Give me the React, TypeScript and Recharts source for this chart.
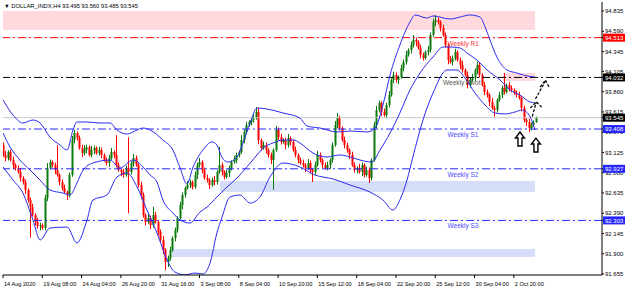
import React from "react"
import {
  ComposedChart,
  Bar,
  Line,
  XAxis,
  YAxis,
  ReferenceLine,
  ReferenceArea,
  ReferenceDot,
} from "recharts"

// H4 closes
const closes = [
  93.094, 93.057, 93.130, 93.033, 92.973, 92.937, 92.888, 92.816, 92.767, 92.671,
  92.550, 92.465, 92.368, 92.284, 92.235, 92.247, 92.211, 92.574, 92.937, 93.009,
  92.973, 92.912, 92.852, 92.767, 92.695, 92.646, 92.610, 92.852, 93.275, 93.360,
  93.299, 93.178, 93.118, 93.154, 93.190, 93.094, 93.154, 93.178, 93.118, 93.154,
  93.094, 93.033, 92.997, 93.057, 93.130, 93.094, 92.973, 92.912, 92.888, 92.852,
  92.937, 92.888, 92.997, 93.057, 92.973, 92.731, 92.610, 92.368, 92.284, 92.332,
  92.247, 92.368, 92.284, 92.163, 92.066, 91.945, 91.800, 91.848, 91.945, 92.090,
  92.187, 92.332, 92.489, 92.610, 92.695, 92.731, 92.767, 92.707, 92.852, 92.973,
  93.009, 92.912, 92.816, 92.791, 92.731, 92.791, 92.767, 92.888, 92.973, 92.888,
  92.828, 92.876, 92.937, 93.009, 93.033, 93.094, 93.130, 93.275, 93.372, 93.456,
  93.493, 93.517, 93.541, 93.614, 93.275, 93.178, 93.215, 93.154, 93.094, 93.033,
  93.154, 93.396, 93.311, 93.251, 93.275, 93.215, 93.299, 93.251, 93.154, 93.094,
  93.033, 92.997, 92.973, 92.937, 92.997, 92.912, 92.888, 92.973, 93.094, 93.033,
  92.973, 92.937, 92.973, 93.033, 93.215, 93.456, 93.541, 93.420, 93.275, 93.215,
  93.154, 93.094, 92.973, 92.912, 92.937, 92.888, 92.973, 92.852, 92.912, 92.816,
  93.033, 93.456, 93.638, 93.723, 93.614, 93.577, 93.698, 93.819, 94.001, 94.061,
  94.001, 94.037, 94.146, 94.218, 94.303, 94.363, 94.424, 94.484, 94.460, 94.388,
  94.303, 94.267, 94.339, 94.363, 94.545, 94.702, 94.726, 94.702, 94.629, 94.545,
  94.424, 94.242, 94.218, 94.267, 94.339, 94.242, 94.182, 94.122, 94.061, 93.940,
  94.001, 94.025, 94.122, 94.182, 94.061, 93.940, 93.856, 93.819, 93.735, 93.662,
  93.638, 93.759, 93.819, 93.904, 93.856, 93.940, 93.904, 93.880, 93.843, 93.819,
  93.783, 93.662, 93.517, 93.493, 93.420, 93.456, 93.493, 93.545,
]
const firstOpen = 93.215

// wick lengths above / below the body
const upWicks = [
  0.03, 0.05, 0.02, 0.03, 0.04, 0.02, 0.03, 0.05, 0.02, 0.03,
  0.02, 0.03, 0.04, 0.02, 0.05, 0.03, 0.02, 0.04, 0.06, 0.03,
  0.02, 0.03, 0.30, 0.02, 0.03, 0.04, 0.02, 0.03, 0.05, 0.04,
  0.02, 0.03, 0.04, 0.06, 0.03, 0.02, 0.05, 0.03, 0.02, 0.04,
  0.03, 0.02, 0.03, 0.04, 0.05, 0.02, 0.24, 0.03, 0.02, 0.04,
  0.03, 0.37, 0.02, 0.05, 0.03, 0.02, 0.04, 0.03, 0.02, 0.05,
  0.03, 0.10, 0.04, 0.02, 0.03, 0.05, 0.02, 0.03, 0.04, 0.02,
  0.03, 0.02, 0.04, 0.03, 0.02, 0.05, 0.03, 0.02, 0.04, 0.03,
  0.05, 0.02, 0.03, 0.04, 0.02, 0.03, 0.05, 0.02, 0.22, 0.03,
  0.02, 0.04, 0.03, 0.02, 0.05, 0.03, 0.02, 0.06, 0.03, 0.04,
  0.02, 0.03, 0.05, 0.06, 0.05, 0.02, 0.04, 0.03, 0.02, 0.03,
  0.02, 0.05, 0.03, 0.04, 0.02, 0.03, 0.05, 0.02, 0.03, 0.04,
  0.02, 0.03, 0.04, 0.02, 0.05, 0.03, 0.02, 0.04, 0.05, 0.03,
  0.02, 0.03, 0.04, 0.02, 0.03, 0.05, 0.06, 0.03, 0.02, 0.04,
  0.03, 0.02, 0.04, 0.03, 0.02, 0.05, 0.03, 0.02, 0.04, 0.03,
  0.02, 0.04, 0.05, 0.03, 0.02, 0.04, 0.03, 0.05, 0.02, 0.04,
  0.03, 0.02, 0.04, 0.03, 0.05, 0.02, 0.04, 0.06, 0.03, 0.02,
  0.04, 0.03, 0.02, 0.05, 0.03, 0.04, 0.06, 0.03, 0.02, 0.04,
  0.03, 0.02, 0.05, 0.03, 0.04, 0.02, 0.03, 0.05, 0.02, 0.04,
  0.03, 0.05, 0.02, 0.04, 0.03, 0.02, 0.04, 0.03, 0.02, 0.05,
  0.03, 0.02, 0.04, 0.03, 0.18, 0.02, 0.04, 0.03, 0.02, 0.03,
  0.04, 0.02, 0.03, 0.02, 0.04, 0.03, 0.02, 0.015,
]
const downWicks = [
  0.02, 0.04, 0.03, 0.02, 0.05, 0.03, 0.02, 0.04, 0.03, 0.05,
  0.03, 0.37, 0.02, 0.04, 0.03, 0.05, 0.02, 0.03, 0.04, 0.02,
  0.03, 0.05, 0.02, 0.04, 0.03, 0.02, 0.06, 0.03, 0.02, 0.04,
  0.03, 0.02, 0.05, 0.03, 0.04, 0.02, 0.03, 0.05, 0.02, 0.03,
  0.04, 0.02, 0.03, 0.05, 0.02, 0.04, 0.03, 0.02, 0.05, 0.03,
  0.02, 0.50, 0.03, 0.04, 0.02, 0.03, 0.05, 0.03, 0.04, 0.02,
  0.05, 0.03, 0.02, 0.04, 0.03, 0.05, 0.10, 0.06, 0.03, 0.02,
  0.04, 0.03, 0.02, 0.05, 0.03, 0.02, 0.04, 0.03, 0.02, 0.05,
  0.03, 0.04, 0.02, 0.03, 0.05, 0.02, 0.04, 0.03, 0.02, 0.04,
  0.03, 0.02, 0.05, 0.03, 0.02, 0.04, 0.03, 0.02, 0.04, 0.03,
  0.02, 0.04, 0.03, 0.02, 0.05, 0.03, 0.02, 0.04, 0.03, 0.05,
  0.36, 0.02, 0.04, 0.03, 0.02, 0.05, 0.03, 0.04, 0.02, 0.03,
  0.04, 0.02, 0.03, 0.05, 0.02, 0.04, 0.12, 0.03, 0.02, 0.03,
  0.04, 0.02, 0.03, 0.05, 0.03, 0.02, 0.04, 0.03, 0.02, 0.04,
  0.03, 0.05, 0.02, 0.03, 0.04, 0.02, 0.05, 0.03, 0.02, 0.06,
  0.03, 0.02, 0.04, 0.03, 0.05, 0.02, 0.04, 0.03, 0.02, 0.04,
  0.03, 0.05, 0.02, 0.04, 0.03, 0.02, 0.04, 0.03, 0.05, 0.02,
  0.04, 0.03, 0.02, 0.04, 0.03, 0.02, 0.05, 0.03, 0.04, 0.02,
  0.03, 0.05, 0.02, 0.04, 0.03, 0.02, 0.05, 0.03, 0.02, 0.04,
  0.03, 0.02, 0.04, 0.05, 0.03, 0.02, 0.04, 0.03, 0.05, 0.02,
  0.08, 0.03, 0.02, 0.04, 0.03, 0.02, 0.04, 0.03, 0.02, 0.03,
  0.02, 0.04, 0.03, 0.05, 0.05, 0.03, 0.02, 0.01,
]

// Bollinger bands, sampled as [bar index, price]
const bandUpper = [
  [0, 93.759], [4.1, 93.577], [8.1, 93.481], [12.2, 93.517], [15.1, 93.481], [19.1, 93.311],
  [23.2, 93.215], [26.1, 93.154], [28.5, 93.396], [30.1, 93.493], [34.2, 93.493], [39.5, 93.481],
  [43.6, 93.481], [46.4, 93.396], [50.5, 93.348], [54.6, 93.396], [57, 93.42], [59.9, 93.396],
  [65.1, 93.275], [69.2, 93.154], [72.1, 92.937], [74.9, 92.743], [77.4, 92.949], [81.4, 93.154],
  [85.1, 93.251], [87.1, 93.215], [89.1, 93.07], [91.6, 93.009], [95.3, 93.07], [97.7, 93.239],
  [100.6, 93.481], [103.4, 93.662], [107.5, 93.65], [114, 93.602], [120.9, 93.541], [123.8, 93.444],
  [129.1, 93.42], [136, 93.372], [141.3, 93.384], [148.2, 93.372], [151.5, 93.42], [154.7, 93.698],
  [157.6, 94.061], [161.6, 94.424], [165.7, 94.702], [167.8, 94.787], [172.6, 94.75], [175.1, 94.775],
  [182, 94.738], [186.1, 94.762], [190.1, 94.787], [194.2, 94.762], [196.3, 94.642], [198.3, 94.484],
  [201.1, 94.279], [205.2, 94.122], [209.3, 94.085], [213.4, 94.049], [216.6, 94.037],
]
const bandMiddle = [
  [0, 93.36], [2.9, 93.19], [6.9, 93.033], [11, 92.912], [15.1, 92.791], [19.1, 92.671],
  [24.4, 92.634], [27.3, 92.61], [30.1, 92.755], [32.6, 92.912], [36.6, 92.997], [43.6, 93.033],
  [47.6, 92.937], [52.9, 93.033], [57, 92.949], [59.9, 92.852], [62.7, 92.767], [65.1, 92.55],
  [69.2, 92.392], [72.1, 92.308], [76.1, 92.271], [80.2, 92.404], [83.1, 92.465], [87.1, 92.586],
  [91.2, 92.707], [95.3, 92.816], [99.3, 92.949], [103.4, 93.094], [105.9, 93.178], [109.9, 93.239],
  [114, 93.275], [118.1, 93.275], [120.9, 93.239], [126.2, 93.118], [131.9, 93.07], [137.2, 93.094],
  [141.3, 93.07], [145.4, 93.033], [150.2, 93.009], [153.5, 93.154], [157.6, 93.36], [161.6, 93.602],
  [165.7, 93.88], [169.8, 94.085], [175.1, 94.279], [179.2, 94.4], [182, 94.4], [186.1, 94.388],
  [188.9, 94.327], [193, 94.242], [197.1, 94.122], [202.4, 94.001], [206.5, 93.88], [210.5, 93.819],
  [214.6, 93.735], [216.6, 93.723],
]
const bandLower = [
  [0, 92.949], [4.1, 92.791], [8.1, 92.634], [12.2, 92.308], [15.1, 92.066], [19.1, 92.211],
  [26.1, 92.223], [30.1, 92.03], [34.2, 92.308], [36.6, 92.55], [42.3, 92.61], [46.4, 92.828],
  [50.5, 92.876], [54.6, 92.707], [58.6, 92.429], [62.7, 92.151], [66.8, 91.824], [70, 91.679],
  [74.1, 91.645], [78.2, 91.667], [81.4, 91.655], [84.3, 91.788], [87.1, 92.151], [89.2, 92.344],
  [92.4, 92.586], [96.5, 92.61], [100.6, 92.513], [104.6, 92.586], [108.7, 92.828], [114, 92.997],
  [120.9, 92.949], [127, 92.852], [134.4, 92.804], [141.3, 92.731], [149.4, 92.646], [154.7, 92.55],
  [158.8, 92.429], [161.6, 92.55], [164.5, 92.791], [166.9, 93.07], [171, 93.517], [175.1, 93.843],
  [180.8, 94.122], [184.9, 94.122], [188.1, 94.025], [192.2, 93.843], [196.3, 93.698], [200.3, 93.602],
  [204.4, 93.59], [208.5, 93.614], [211.4, 93.638], [214.7, 93.553], [216.6, 93.396],
]

const timeTicks = [0, 16, 32, 48, 64, 80, 96, 112, 128, 144, 160, 176, 192, 208]
const timeLabels = [
  "14 Aug 2020", "19 Aug 08:00", "24 Aug 04:00", "26 Aug 20:00", "31 Aug 16:00",
  "3 Sep 08:00", "8 Sep 04:00", "10 Sep 20:00", "15 Sep 12:00", "18 Sep 04:00",
  "22 Sep 20:00", "25 Sep 12:00", "30 Sep 04:00", "2 Oct 20:00",
]
const priceTicks = [
  94.835, 94.59, 94.345, 94.105, 93.86, 93.615, 93.37,
  93.125, 92.88, 92.635, 92.39, 92.145, 91.9, 91.655,
]

// weekly pivot levels
const levelNames = ["Weekly R1", "Weekly Pivot", "Weekly S1", "Weekly S2", "Weekly S3"]
const levelValues = [94.513, 94.032, 93.408, 92.927, 92.303]
const levelColors = ["#ff0000", "#000000", "#2626ff", "#2626ff", "#2626ff"]
const levelTextColors = ["#ff3030", "#555555", "#4a4aff", "#4a4aff", "#4a4aff"]
const levelLabelAt = [181, 179.2, 181, 181, 181]
const lastPrice = 93.545

const tagValues = [94.513, 94.032, 93.545, 93.408, 92.927, 92.303]
const tagColors = ["#ff0000", "#000000", "#000000", "#2626ff", "#2626ff", "#2626ff"]

// highlighted zones [x1, x2, y1, y2]
const zones = [
  [0, 216.6, 94.605, 94.835],
  [203.6, 216.6, 93.988, 94.085],
  [88.4, 216.6, 92.646, 92.779],
  [68.8, 216.6, 91.86, 91.957],
]
const zoneColors = ["#ffd9de", "#ffd9de", "#d6ddf8", "#d6ddf8"]

// annotations: hollow arrows (tip) and the two sketched dashed arrows
const bigArrows = [[210.5, 93.372], [217, 93.299]]
const sketchLines = [
  [[215.5, 93.56], [217.2, 93.735]],
  [[214.7, 93.662], [217.2, 93.735]],
  [[217.2, 93.735], [219.3, 93.674]],
  [[216.8, 93.771], [220.9, 93.989]],
  [[218.7, 93.916], [220.9, 93.999]],
  [[220.9, 93.999], [222.3, 93.916]],
]

const candles = closes.map((c, i) => {
  const o = i === 0 ? firstOpen : closes[i - 1]
  return {
    i,
    open: o,
    close: c,
    high: Math.max(o, c) + upWicks[i],
    low: Math.min(o, c) - downWicks[i],
  }
})

const toPoints = (arr: number[][]) => arr.map(([i, v]) => ({ i, v }))

const font = "'Liberation Sans', Arial, sans-serif"

function Candle(props: any) {
  const { x, y, width, height, payload } = props
  const { open, close, high, low } = payload
  const top = Math.min(y, y + height)
  const h = Math.abs(height)
  const k = h / (high - low)
  const yO = top + (high - open) * k
  const yC = top + (high - close) * k
  const color = close >= open ? "#0a7a0a" : "#ff0000"
  const cx = Math.round(x + width / 2)
  return (
    <g>
      <line x1={cx + 0.5} x2={cx + 0.5} y1={top} y2={top + h} stroke={color} strokeWidth={1} />
      <rect
        x={cx - 0.5}
        y={Math.min(yO, yC)}
        width={2}
        height={Math.max(1, Math.abs(yC - yO))}
        fill={color}
      />
    </g>
  )
}

function PriceTick(props: any) {
  const { x, y, payload } = props
  const idx = tagValues.indexOf(payload.value)
  if (idx >= 0) {
    return (
      <g>
        <rect x={x - 2} y={y - 4} width={22} height={8} fill={tagColors[idx]} />
        <text x={x} y={y + 2.2} fill="#ffffff" fontSize={6} fontFamily={font}>
          {payload.value.toFixed(3)}
        </text>
      </g>
    )
  }
  return (
    <text x={x} y={y + 2.2} fill="#000" fontSize={6} fontFamily={font}>
      {payload.value.toFixed(3)}
    </text>
  )
}

function TimeTick(props: any) {
  const { x, y, payload } = props
  const k = timeTicks.indexOf(payload.value)
  return (
    <text x={x + 1} y={y + 5.5} fill="#000" fontSize={5.6} fontFamily={font} textAnchor="start">
      {timeLabels[k]}
    </text>
  )
}

function UpArrow(props: any) {
  const { cx, cy } = props
  const d = `M${cx},${cy} L${cx + 4.5},${cy + 6} L${cx + 2},${cy + 6} L${cx + 2},${cy + 14} L${cx - 2},${cy + 14} L${cx - 2},${cy + 6} L${cx - 4.5},${cy + 6} Z`
  return <path d={d} fill="#ffffff" stroke="#000" strokeWidth={1.4} />
}

export default function App() {
  return (
    <div style={{ position: "relative", width: 625, height: 288, background: "#fff" }}>
      <style>{"body{margin:0}"}</style>
      <ComposedChart
        width={625}
        height={288}
        data={candles}
        margin={{ top: 2, right: 0, bottom: 0, left: 3 }}
      >
        <XAxis
          dataKey="i"
          type="number"
          domain={[0, 243.9]}
          allowDataOverflow
          ticks={timeTicks}
          interval={0}
          tick={<TimeTick />}
          tickSize={3}
          axisLine={{ stroke: "#000" }}
          tickLine={{ stroke: "#000" }}
          height={13}
        />
        <YAxis
          yAxisId="frame"
          orientation="left"
          width={0}
          tick={false}
          axisLine={{ stroke: "#000" }}
          tickLine={false}
        />
        <YAxis
          orientation="right"
          width={23}
          domain={[91.643, 94.944]}
          allowDataOverflow
          ticks={[...priceTicks, ...tagValues]}
          interval={0}
          tick={<PriceTick />}
          tickSize={2}
          tickMargin={1}
          axisLine={{ stroke: "#000" }}
          tickLine={{ stroke: "#000" }}
        />

        {zones.map((z, k) => (
          <ReferenceArea
            key={"z" + k}
            x1={z[0]}
            x2={z[1]}
            y1={z[2]}
            y2={z[3]}
            fill={zoneColors[k]}
            fillOpacity={1}
            stroke="none"
          />
        ))}

        <ReferenceLine y={lastPrice} stroke="#c8c8c8" strokeWidth={1} />
        {levelValues.map((v, k) => (
          <ReferenceLine
            key={"l" + k}
            y={v}
            stroke={levelColors[k]}
            strokeWidth={1}
            strokeDasharray="8 3 2 3"
          />
        ))}

        <Bar
          dataKey={(d: any) => [d.low, d.high]}
          barSize={2}
          shape={<Candle />}
          isAnimationActive={false}
        />

        <Line data={toPoints(bandUpper)} dataKey="v" type="monotone" stroke="#2b2bf0" strokeWidth={1} dot={false} isAnimationActive={false} />
        <Line data={toPoints(bandMiddle)} dataKey="v" type="monotone" stroke="#2b2bf0" strokeWidth={1} dot={false} isAnimationActive={false} />
        <Line data={toPoints(bandLower)} dataKey="v" type="monotone" stroke="#2b2bf0" strokeWidth={1} dot={false} isAnimationActive={false} />

        {levelValues.map((v, k) => (
          <ReferenceDot
            key={"t" + k}
            x={levelLabelAt[k]}
            y={v}
            r={0}
            shape={(p: any) => (
              <text
                x={p.cx}
                y={p.cy + 8}
                fill={levelTextColors[k]}
                fontSize={6.5}
                fontFamily={font}
              >
                {levelNames[k]}
              </text>
            )}
          />
        ))}

        {bigArrows.map((a, k) => (
          <ReferenceDot key={"a" + k} x={a[0]} y={a[1]} r={0} shape={<UpArrow />} ifOverflow="visible" />
        ))}
        {sketchLines.map((s, k) => (
          <ReferenceLine
            key={"s" + k}
            segment={[{ x: s[0][0], y: s[0][1] }, { x: s[1][0], y: s[1][1] }]}
            stroke="#000"
            strokeWidth={1.2}
            strokeDasharray="3 1.5"
            ifOverflow="visible"
          />
        ))}
      </ComposedChart>
      <div
        style={{
          position: "absolute",
          left: 4,
          top: 2,
          fontSize: 5.8,
          fontFamily: font,
          color: "#000",
          whiteSpace: "nowrap",
          lineHeight: "8px",
        }}
      >
        ▼ DOLLAR_INDX,H4 93.495 93.560 93.485 93.545
      </div>
    </div>
  )
}
